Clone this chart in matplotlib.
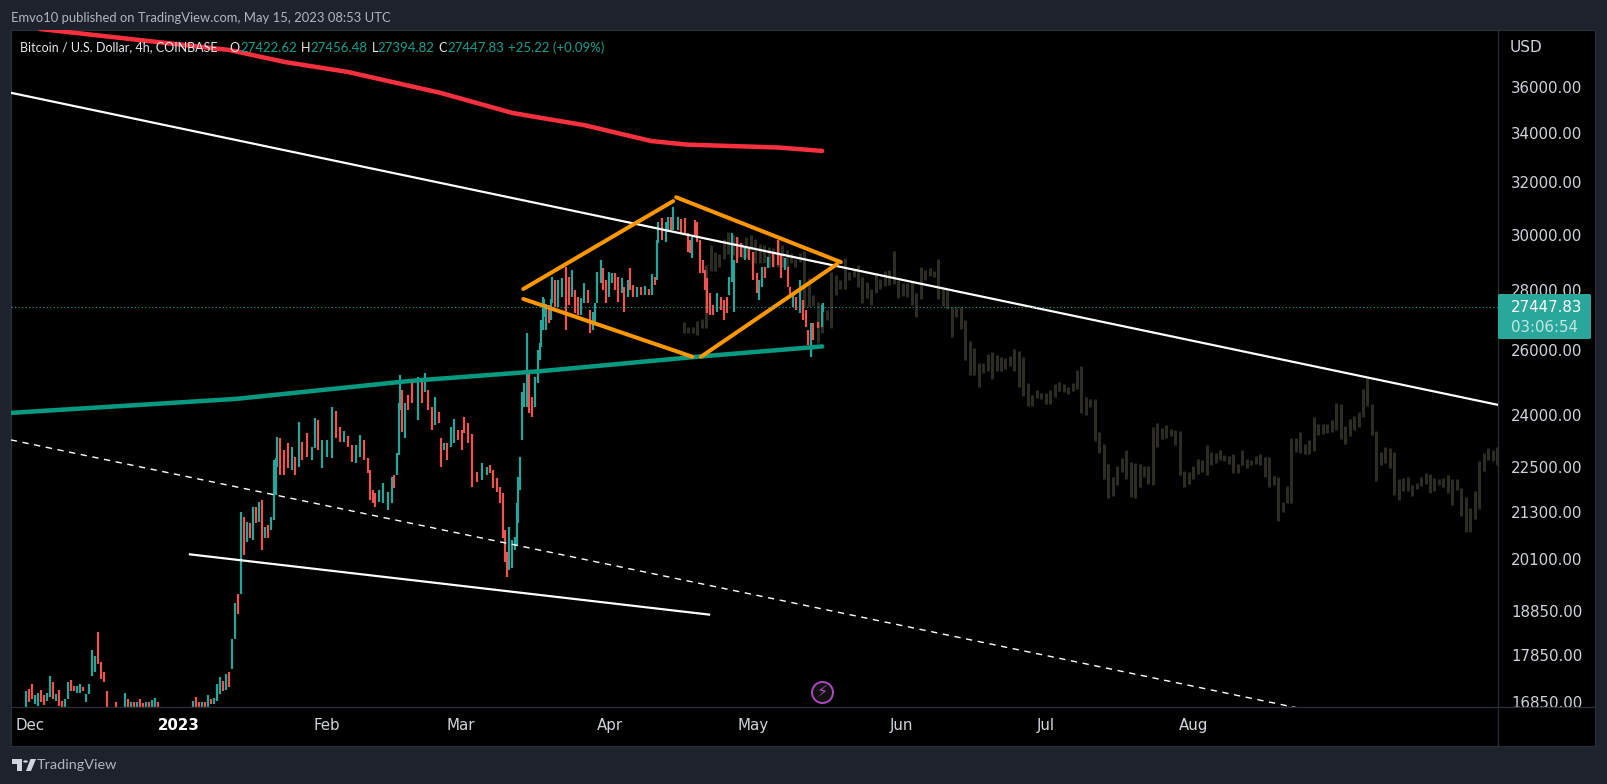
# -*- coding: utf-8 -*-
import numpy as np
import matplotlib
matplotlib.use('Agg')
import matplotlib.pyplot as plt
from matplotlib.patches import Polygon, Circle, FancyBboxPatch
from matplotlib.ticker import NullLocator

W, H = 1607, 784

# x axis is days since 1 Jan 2023
month_days = [-31, 0, 31, 59, 90, 120, 151, 181, 212]
month_labels = ['Dec', '2023', 'Feb', 'Mar', 'Apr', 'May', 'Jun', 'Jul', 'Aug']
price_ticks = [36000, 34000, 32000, 30000, 28000, 26000, 24000, 22500, 21300, 20100, 18850, 17850, 16850]
price_labels = ['%d.00' % p for p in price_ticks]
last_price = 27447.83

candle_days = [
    -31.8, -31.2, -30.6, -30.0, -29.3, -28.7, -28.1, -27.4, -26.8, -26.2,
    -25.6, -24.9, -24.3, -23.7, -23.1, -22.4, -21.8, -21.2, -20.5, -19.9,
    -19.3, -18.7, -18.0, -17.4, -16.8, -16.2, -15.5, -14.9, -13.0, -11.2,
    -10.5, -9.9, -9.3, -8.6, -8.0, -7.4, -6.8, -6.1, -5.5, -4.9,
    -4.3, 3.0, 3.7, 4.3, 4.9, 5.6, 6.2, 6.8, 7.4, 8.1,
    8.7, 9.3, 9.9, 10.6, 11.2, 11.8, 12.4, 13.1, 13.7, 14.3,
    14.9, 15.6, 16.2, 16.8, 17.5, 18.1, 18.7, 19.3, 20.0, 20.3,
    20.6, 21.2, 22.0, 22.9, 23.7, 24.3, 25.2, 25.8, 26.9, 27.9,
    28.5, 29.1, 30.0, 31.0, 32.1, 32.9, 33.7, 34.6, 35.4, 36.2,
    37.1, 37.9, 38.8, 39.6, 40.0, 40.6, 41.0, 41.9, 42.7, 43.8,
    44.6, 45.0, 45.6, 46.1, 46.3, 46.7, 47.3, 47.9, 48.8, 50.0,
    50.9, 51.5, 52.1, 53.0, 53.6, 54.4, 54.8, 55.5, 56.1, 56.9,
    57.6, 58.4, 59.2, 59.7, 60.5, 61.3, 62.4, 63.4, 64.5, 65.1,
    65.7, 66.5, 67.2, 67.8, 68.2, 68.6, 69.0, 69.7, 70.3, 70.7,
    71.0, 71.3, 71.8, 72.2, 72.8, 73.1, 73.8, 74.5, 75.1, 75.5,
    75.7, 76.1, 76.4, 76.8, 77.4, 77.8, 78.0, 78.6, 79.3, 80.1,
    80.9, 81.6, 82.2, 82.8, 83.4, 84.1, 84.7, 85.5, 85.9, 86.6,
    87.0, 87.4, 88.2, 88.6, 89.3, 89.9, 90.5, 91.2, 91.8, 92.6,
    93.0, 93.9, 94.3, 95.0, 95.8, 96.6, 97.4, 98.3, 98.9, 99.5,
    100.0, 100.2, 101.0, 101.7, 102.3, 102.9, 103.3, 104.2, 105.0, 105.8,
    106.4, 106.8, 107.2, 107.9, 108.3, 108.9, 109.5, 110.0, 110.4, 111.0,
    111.6, 112.5, 113.3, 113.9, 114.5, 115.0, 115.6, 116.0, 116.6, 117.5,
    118.3, 119.2, 120.0, 120.8, 121.2, 121.9, 122.5, 123.1, 124.2, 125.2,
    125.8, 126.7, 127.3, 127.7, 128.3, 128.9, 129.8, 130.4, 131.0, 131.4,
    132.0, 132.5, 133.5, 134.4, 134.6]
candle_high = [
    17060, 17120, 17220, 16990, 17030, 17100, 16990, 17030, 17390, 17260,
    17010, 17100, 16870, 16910, 17260, 17310, 17180, 17180, 17220, 17160,
    17010, 17220, 17960, 17830, 18350, 17690, 17480, 17060, 16850, 17030,
    16910, 16850, 16830, 16850, 16910, 16810, 16830, 16850, 16880, 16930,
    16840, 16870, 16950, 16850, 16850, 16830, 16990, 16910, 16930, 17220,
    17370, 17290, 17440, 17480, 18200, 19040, 19250, 21300, 21170, 21040,
    21010, 21420, 21420, 21560, 21610, 20910, 20960, 21170, 22710, 22770,
    23370, 23340, 22990, 23190, 23080, 22790, 23800, 23220, 23480, 23080,
    23920, 23860, 23280, 23280, 24250, 24130, 23660, 23540, 23400, 23140,
    23140, 23430, 23280, 22770, 22430, 21880, 21800, 21880, 22070, 21830,
    22230, 22290, 22900, 24370, 25220, 24760, 24370, 24610, 25010, 25160,
    25010, 25290, 24760, 24250, 24550, 24100, 23340, 23190, 23190, 23660,
    23890, 23570, 23570, 23950, 23770, 23450, 22370, 22630, 22510, 22570,
    22430, 22210, 21960, 21800, 20830, 20270, 20910, 20580, 20660, 21530,
    22230, 22790, 24700, 24980, 26570, 25290, 24550, 25160, 26010, 26240,
    27000, 27770, 27700, 27530, 27500, 27700, 28470, 28360, 28360, 28430,
    28830, 28470, 28720, 28020, 27770, 27740, 28260, 28020, 27330, 27260,
    27570, 28650, 29080, 28790, 28360, 28650, 28610, 28610, 28470, 28430,
    28120, 28360, 28790, 28190, 28120, 28120, 28160, 28050, 28580, 28470,
    29800, 30470, 30620, 30470, 30660, 30660, 31040, 30660, 30580, 30620,
    30060, 29800, 29910, 30540, 30470, 29800, 29080, 28720, 28430, 27920,
    27500, 27920, 27770, 27670, 27770, 28470, 30060, 29080, 29910, 29690,
    29510, 29510, 29370, 28610, 28360, 28830, 28830, 29190, 29370, 29800,
    29260, 29150, 28830, 28120, 27920, 27770, 28360, 27670, 27330, 26670,
    26900, 26900, 26930, 27500, 27570]
candle_low = [
    16740, 16850, 16910, 16800, 16760, 16850, 16780, 16870, 16950, 16910,
    16870, 16760, 16740, 16740, 16910, 17080, 17060, 17030, 17030, 17060,
    16850, 17010, 17390, 17480, 17650, 17330, 17260, 16740, 16700, 16740,
    16740, 16720, 16700, 16720, 16730, 16700, 16700, 16710, 16720, 16740,
    16680, 16720, 16730, 16720, 16720, 16710, 16720, 16800, 16790, 16870,
    17010, 17060, 17100, 17160, 17540, 18200, 18770, 19250, 20200, 20530,
    20630, 20580, 21010, 21040, 20320, 20630, 20630, 20830, 21090, 21750,
    22510, 22290, 22290, 22490, 22430, 22290, 22510, 22710, 22790, 22710,
    23050, 22990, 22490, 22790, 22770, 23340, 23220, 23220, 23080, 22650,
    22630, 22790, 22710, 22350, 21610, 21530, 21430, 21560, 21530, 21350,
    21530, 21930, 22290, 22850, 24160, 23510, 23340, 24160, 24370, 23860,
    24370, 24700, 24160, 23570, 23710, 23770, 22510, 22990, 22710, 23080,
    23190, 23280, 22990, 23480, 23190, 21960, 22100, 22150, 22290, 22350,
    21930, 21830, 21530, 20630, 20020, 19660, 19830, 19880, 20320, 20450,
    21010, 21880, 23280, 24250, 24250, 24070, 23950, 24250, 24980, 25700,
    26110, 26670, 27100, 26670, 26900, 27000, 27570, 27430, 27430, 27770,
    26670, 27500, 27770, 27230, 27160, 27160, 27570, 27570, 26570, 26670,
    26900, 27570, 28260, 28020, 27570, 27770, 28260, 28020, 27600, 27920,
    27260, 27770, 28020, 27770, 27770, 27840, 27840, 27840, 27840, 28190,
    28360, 29690, 29800, 29730, 30100, 30170, 30170, 30170, 30060, 30060,
    29370, 29330, 29150, 29980, 29730, 28610, 28610, 28020, 27230, 27160,
    27160, 27260, 27330, 27000, 27230, 27840, 28290, 27260, 28970, 29190,
    29080, 29080, 28360, 27920, 27670, 28120, 28430, 28790, 28830, 28900,
    28430, 28720, 28120, 27770, 27430, 27330, 27230, 27000, 26770, 26180,
    25790, 26340, 26730, 26770, 27260]
candle_dir = (
    'udduudduud'
    'udduudduud'
    'uuuudddddu'
    'dududduduu'
    'duddududuu'
    'ududuududu'
    'dudududuuu'
    'udddududdu'
    'uduuuddudd'
    'uuddddduuu'
    'uduuududdu'
    'dudduddudu'
    'udddddduud'
    'dddddduuuu'
    'uuuuudduuu'
    'uuuuduuduu'
    'ddudduuddu'
    'uuudduuddu'
    'duddududud'
    'uuduuduudd'
    'dduddddddd'
    'duddduuudd'
    'uddduududd'
    'duddududdd'
    'udduu'
)

ghost_top = [
    26930, 26770, 26770, 26970, 27030, 28900, 29620, 29370, 29300, 29840,
    30100, 29980, 29910, 29690, 29910, 29980, 29840, 29660, 29620, 29550,
    29510, 29800, 29620, 29440, 29330, 29120, 29330, 29400, 28430, 27840,
    27600, 27570, 27330, 28650, 28540, 28360, 29150, 28650, 28720, 28900,
    28470, 28290, 28050, 28540, 28400, 28680, 28720, 29400, 28360, 28260,
    28260, 28290, 27920, 28830, 28720, 28790, 28680, 29120, 28050, 28020,
    27430, 27430, 27430, 27000, 26310, 26080, 25600, 25600, 25880, 25950,
    25850, 25790, 25760, 25820, 26040, 25980, 25790, 24970, 24610, 24760,
    24670, 24670, 24760, 24950, 25010, 24950, 24850, 24980, 25380, 25500,
    24550, 24490, 24490, 23510, 23160, 22600, 22230, 22540, 22770, 22990,
    22650, 22630, 22600, 22540, 22540, 23660, 23770, 23630, 23710, 23600,
    23570, 23540, 22400, 22370, 22540, 22740, 22710, 23140, 22930, 22900,
    22990, 22850, 22820, 22880, 22600, 22990, 22740, 22710, 22820, 22880,
    22790, 22790, 22260, 22230, 21560, 21990, 23340, 23340, 23510, 23160,
    23280, 23950, 23740, 23740, 23740, 23860, 24370, 24340, 23680, 23890,
    23980, 24100, 24790, 25130, 24340, 23540, 22930, 23080, 23050, 22930,
    22180, 22210, 22230, 22010, 22070, 22230, 22340, 22320, 22210, 22180,
    22210, 22290, 22180, 22180, 21930, 21690, 21400, 21850, 22680, 22900,
    23050, 22990, 23080]
ghost_bottom = [
    26570, 26570, 26570, 26500, 26730, 26730, 28680, 28680, 28830, 29120,
    29300, 29260, 29150, 29150, 29150, 29440, 28970, 28970, 28970, 28830,
    28830, 28830, 28830, 28830, 28970, 28830, 29010, 27430, 27430, 27460,
    26240, 26570, 27000, 26730, 27840, 28050, 28050, 28360, 28470, 28120,
    27570, 27740, 27500, 27920, 28050, 28160, 28190, 28220, 27740, 27810,
    27770, 27500, 27100, 27700, 28360, 28510, 28470, 27700, 27460, 27360,
    26440, 27100, 26700, 25700, 25220, 25220, 24850, 25290, 25350, 25100,
    25350, 25350, 25410, 25510, 25350, 24850, 24580, 24280, 24280, 24520,
    24490, 24340, 24340, 24550, 24730, 24700, 24640, 24730, 24790, 24070,
    24010, 24250, 23250, 22900, 22180, 21660, 21720, 22010, 22370, 22180,
    21690, 21660, 21960, 22230, 22040, 22010, 23080, 23310, 23340, 23400,
    23140, 22290, 21960, 22040, 22180, 22320, 22370, 22290, 22570, 22630,
    22710, 22680, 22600, 22350, 22350, 22570, 22490, 22570, 22600, 22570,
    22230, 21960, 22010, 21060, 21300, 21530, 21530, 22930, 22900, 22880,
    22880, 22960, 23420, 23450, 23480, 23510, 23570, 23310, 23160, 23400,
    23570, 23660, 23950, 24280, 23420, 22120, 22570, 22630, 22490, 21740,
    21610, 21850, 21850, 21720, 21910, 21990, 22040, 21800, 21850, 22010,
    21960, 21800, 21480, 21880, 21190, 20780, 20780, 21110, 21380, 22400,
    22710, 22680, 22570]

red_days = [-28.9, 10.6, 22.3, 35.4, 54.8, 69.7, 78.2, 84.7, 98.7, 106.2, 125.4, 134.4]
red_prices = [38680, 37690, 37130, 36680, 35740, 34870, 34570, 34350, 33680, 33530, 33410, 33270]
green_days = [-35.0, 12.0, 48.4, 76.1, 108.3, 134.4]
green_prices = [24070, 24490, 25040, 25350, 25800, 26130]

trend_days = [-35.0, 275.5]
trend_prices = [35750, 24310]
dashed_days = [-35.0, 275.5]
dashed_prices = [23280, 15876]
short_days = [2.4, 110.8]
short_prices = [20210, 18760]

orange_a_days, orange_a_prices = [72.0, 103.3], [28050, 31270]
orange_b_days, orange_b_prices = [72.0, 107.3], [27710, 25800]
orange_c_days, orange_c_prices = [103.9, 138.3], [31420, 29000]
orange_d_days, orange_d_prices = [109.1, 137.5], [25800, 28930]

BG = '#1e222d'
GRID = '#2a2e39'
UP = '#26a69a'
DOWN = '#ef5350'
TXT = '#d1d4dc'
UI_FONT = 'Lato'
PX = 72 / 100  # one pixel in points


def fig_box(x0, y0, x1, y1):
    # pixel box (y from top) to fig.add_axes rect
    return [x0 / W, 1 - y1 / H, (x1 - x0) / W, (y1 - y0) / H]


def fx(x):
    return x / W


def fy(y):
    return 1 - y / H


fig = plt.figure(figsize=(W / 100, H / 100), dpi=100, facecolor=BG)

# price scale background
ax_scale = fig.add_axes(fig_box(1498, 30, 1595, 707), facecolor='black', zorder=-1)
ax_scale.set_xticks([])
ax_scale.set_yticks([])

ax = fig.add_axes(fig_box(11, 30, 1498, 707), facecolor='black', zorder=1)
ax.set_yscale('log')
ax.set_xlim(-34.95, 275.5)
ax.set_ylim(16736, 38632)
ax.yaxis.tick_right()
ax.set_yticks(price_ticks)
ax.set_yticklabels(price_labels)
ax.yaxis.set_minor_locator(NullLocator())
ax.tick_params(axis='y', length=0, pad=9.4, labelsize=10.8, labelcolor=TXT)
ax.set_xticks([])

ghost_days = np.linspace(105.5, 275.3, len(ghost_top))
ax.vlines(ghost_days, ghost_bottom, ghost_top, colors='#2c2c22', linewidth=3 * PX, zorder=1)

days = np.array(candle_days)
high = np.array(candle_high)
low = np.array(candle_low)
is_up = np.array([c == 'u' for c in candle_dir])
ax.vlines(days[is_up], low[is_up], high[is_up], colors=UP, linewidth=2.2 * PX, zorder=2)
ax.vlines(days[~is_up], low[~is_up], high[~is_up], colors=DOWN, linewidth=2.2 * PX, zorder=2)

ax.plot(red_days, red_prices, color='#f7303f', lw=4.5 * PX, zorder=3, solid_capstyle='round')
ax.plot(green_days, green_prices, color='#089981', lw=4.5 * PX, zorder=3, solid_capstyle='round')
ax.plot(trend_days, trend_prices, color='white', lw=2.2 * PX, zorder=3)
ax.plot(short_days, short_prices, color='white', lw=2.2 * PX, zorder=3)
ax.plot(dashed_days, dashed_prices, color='white', lw=1.4 * PX, zorder=3, dashes=(4.5, 4))
for xs, ys in [(orange_a_days, orange_a_prices), (orange_b_days, orange_b_prices),
               (orange_c_days, orange_c_prices), (orange_d_days, orange_d_prices)]:
    ax.plot(xs, ys, color='#ff9800', lw=4 * PX, zorder=4, solid_capstyle='round')
ax.axhline(last_price, color=UP, lw=1.1 * PX, zorder=5, dashes=(1, 2.2))

# event icon
trans = ax.get_xaxis_transform()
ax.plot([134.4], [0.0222], transform=trans, marker='o', ms=21 * PX, mfc='#111111', mec='#ab47bc',
        mew=2 * PX, zorder=6, clip_on=False)
ax.text(134.4, 0.0222, '\u26a1', transform=trans, color='#ab47bc', fontsize=11.5, ha='center', va='center',
        family='DejaVu Sans', zorder=7)

for s in ax.spines.values():
    s.set_color(GRID)
    s.set_linewidth(1.2 * PX)
for s in ax_scale.spines.values():
    s.set_color(GRID)
    s.set_linewidth(1.2 * PX)

# time scale strip, sits over the clipped bottom price label
ax_time = fig.add_axes(fig_box(11, 707, 1498, 746), facecolor='black', zorder=2)
ax_time.set_xlim(ax.get_xlim())
ax_time.set_yticks([])
ax_time.set_xticks(month_days)
ax_time.set_xticklabels(month_labels)
ax_time.tick_params(axis='x', length=0, pad=-20, labelsize=10.8, labelcolor=TXT)
for lab in ax_time.get_xticklabels():
    if lab.get_text() == '2023':
        lab.set_fontweight('bold')
        lab.set_color('white')
ax_corner = fig.add_axes(fig_box(1498, 707, 1595, 746), facecolor='black', zorder=2)
ax_corner.set_xticks([])
ax_corner.set_yticks([])
for a in (ax_time, ax_corner):
    for s in a.spines.values():
        s.set_color(GRID)
        s.set_linewidth(1.2 * PX)

# last price tag
tag = FancyBboxPatch((fx(1498), fy(339)), fx(93), (339 - 294) / H, boxstyle='round,pad=0,rounding_size=0.001',
                     transform=fig.transFigure, fc='#29a79b', ec='none', zorder=8, mutation_aspect=2)
fig.add_artist(tag)
fig.text(fx(1511), fy(307), '27447.83', color='white', fontsize=10.8, va='center', zorder=9)
fig.text(fx(1511), fy(327), '03:06:54', color='#c4e6e2', fontsize=10.8, va='center', zorder=9)
fig.text(fx(1510), fy(47), 'USD', color=TXT, fontsize=11, va='center', zorder=9)

# header and legend text
fig.text(fx(11), fy(17.5), 'Emvo10 published on TradingView.com, May 15, 2023 08:53 UTC', color='#b2b5be',
         fontsize=9.4, va='center', family=UI_FONT, zorder=9)
legend_white = [(229, 'O'), (300.5, 'H'), (371.5, 'L'), (438.5, 'C')]
legend_teal = [(240, '27422.62'), (310, '27456.48'), (377.5, '27394.82'), (447, '27447.83'), (508, '+25.22 (+0.09%)')]
fig.text(fx(20.5), fy(47.5), 'Bitcoin / U.S. Dollar, 4h, COINBASE', color='#e6e8ee', fontsize=9.0, va='center',
         family=UI_FONT, zorder=9)
for x, s in legend_white:
    fig.text(fx(x), fy(47.5), s, color='#e6e8ee', fontsize=9.0, va='center', family=UI_FONT, zorder=9)
for x, s in legend_teal:
    fig.text(fx(x), fy(47.5), s, color='#1b9e8f', fontsize=9.5, va='center', family=UI_FONT, zorder=9)

# TradingView logo, footer
logo = '#d1d4dc'
for pts in ([(12, 759), (22, 759), (22, 771), (17, 771), (17, 764), (12, 764)],
            [(26, 771), (30.5, 759), (36, 759), (31, 771)]):
    fig.add_artist(Polygon([(fx(a), fy(b)) for a, b in pts], closed=True, transform=fig.transFigure,
                           fc=logo, ec='none', zorder=9))
fig.add_artist(Circle((fx(25.5), fy(761.5)), 2.4 / W, transform=fig.transFigure, fc=logo, ec='none', zorder=9))
fig.text(fx(37), fy(765), 'TradingView', color='#b2b5be', fontsize=10.4, va='center', family=UI_FONT, zorder=9)

fig.savefig('out.png', dpi=100, facecolor=BG)
